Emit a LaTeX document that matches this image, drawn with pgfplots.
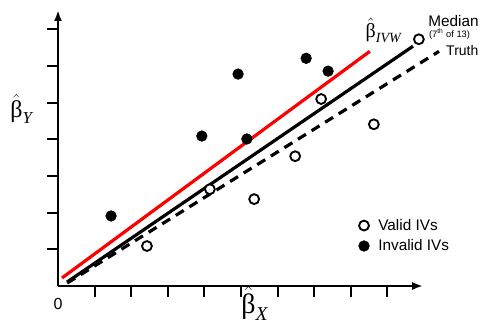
\documentclass[border=0pt]{standalone}
\usepackage{amsmath}
\usepackage{fontspec}
\setmainfont{Liberation Sans}
\newfontfamily\serif{Liberation Serif}
\usepackage{pgfplots}
\pgfplotsset{compat=1.18}
\usetikzlibrary{arrows.meta}
\newcommand{\bh}{\hat{\mbox{\serif β}}}
\newcommand{\sub}[1]{_{\text{\serif\itshape #1}}}
\begin{document}
\begin{tikzpicture}
\begin{axis}[
  x=27.45pt, y=27.5pt,
  xmin=0, xmax=9.97, ymin=0, ymax=7.52,
  axis lines=left,
  axis line style={line width=1.5pt, -{Latex[length=8pt,width=6pt]}},
  xtick={1,...,9}, ytick={1,...,7},
  xticklabels={}, yticklabels={},
  tick align=outside, major tick length=8pt,
  tick style={line width=1.4pt, black},
  clip=false,
  legend cell align=left,
  legend style={draw=none, fill=none, font=\fontsize{11.5}{13}\selectfont,
    at={(axis cs:8.03,1.98)}, anchor=north west, row sep=1.5pt},
  legend image code/.code={\path (0cm,0cm) (0.5cm,0cm); \draw[mark repeat=2,mark phase=2,#1] plot coordinates {(0cm,0cm) (0.2cm,0cm) (0.4cm,0cm)};},
]
\coordinate (O) at (axis cs:0,0);
\addplot[red, line width=2.4pt, forget plot] coordinates {(0.11,0.22) (8.52,6.40)};
\addplot[black, line width=2.4pt, forget plot] coordinates {(0.25,0.11) (9.70,6.54)};
\addplot[black, line width=2.4pt, dash pattern=on 7pt off 5pt, forget plot] coordinates {(0.25,0.08) (10.41,6.40)};
\addplot[only marks, mark=*, mark options={draw=black, fill=white, line width=1.4pt}, mark size=3.7pt] coordinates {
(2.43,1.09) (4.15,2.64) (5.36,2.37) (6.48,3.54) (7.19,5.10) (8.63,4.41) (9.86,6.73)};
\addlegendentry{Valid IVs}
\addplot[only marks, mark=*, mark options={draw=black, fill=black}, mark size=4pt] coordinates {
(1.45,1.91) (3.93,4.09) (4.92,5.78) (6.78,6.21) (5.16,4.01) (7.38,5.86)};
\addlegendentry{Invalid IVs}
\node[font=\fontsize{12}{14}\selectfont] at (axis cs:0,-0.49) {0};
\node[anchor=base west, font=\fontsize{18}{21}\selectfont, inner sep=0pt] at (axis cs:-1.31,4.6) {$\bh\sub{Y}$};
\node[anchor=base west, font=\fontsize{21}{24}\selectfont, inner sep=0pt] at (axis cs:5.0,-0.74) {$\bh\sub{X}$};
\node[anchor=base west, font=\fontsize{15}{18}\selectfont, inner sep=0pt] at (axis cs:8.4,6.78) {$\bh\sub{IVW}$};
\node[anchor=base west, font=\fontsize{11.5}{13}\selectfont, inner sep=0pt] at (axis cs:10.11,7.08) {Median};
\node[anchor=base west, font=\fontsize{7}{8}\selectfont, inner sep=0pt] at (axis cs:10.13,6.78) {(7\textsuperscript{th} of 13)};
\node[anchor=base west, font=\fontsize{10.5}{12}\selectfont, inner sep=0pt] at (axis cs:10.6,6.29) {Truth};
\end{axis}
\pgfresetboundingbox
\path[use as bounding box] ([shift={(-43.5pt,-29.25pt)}]O) rectangle ++(360pt,243.75pt);
\end{tikzpicture}
\end{document}
